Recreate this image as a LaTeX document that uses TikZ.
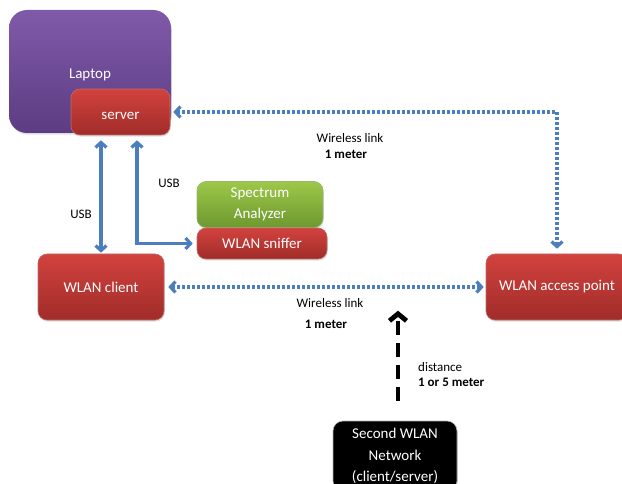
\documentclass[tikz,border=0pt]{standalone}
\usepackage{fontspec}
\setmainfont{Carlito}
\usetikzlibrary{arrows.meta,calc,shadows}

\definecolor{laptoptop}{RGB}{128,90,170}
\definecolor{laptopbot}{RGB}{92,60,130}
\definecolor{redtop}{RGB}{210,66,62}
\definecolor{redbot}{RGB}{160,44,41}
\definecolor{greentop}{RGB}{158,200,72}
\definecolor{greenbot}{RGB}{108,152,48}
\definecolor{linkblue}{RGB}{74,126,190}

\tikzset{
  box/.style={rounded corners=9pt, text=white, align=center,
    font=\fontsize{15}{21}\selectfont, inner sep=0pt,
    drop shadow={opacity=0.25, shadow xshift=0.8pt, shadow yshift=-1.6pt}},
  redbox/.style={box, top color=redtop, bottom color=redbot, draw=redbot!70!white, line width=0.6pt},
  greenbox/.style={box, top color=greentop, bottom color=greenbot, draw=greenbot!70!white, line width=0.6pt},
  usb/.style={draw=linkblue, line width=3.2pt,
    {Straight Barb[length=5pt,width=11pt]}-{Straight Barb[length=5pt,width=11pt]}},
  wireless/.style={draw=linkblue, line width=3.2pt, dash pattern=on 3pt off 2pt,
    {Straight Barb[length=5pt,width=11pt]}-{Straight Barb[length=5pt,width=11pt]}},
  lbl/.style={font=\fontsize{13}{16}\selectfont, inner sep=0pt},
}

\begin{document}
\begin{tikzpicture}[x=1pt, y=-1pt]
  \clip (0,0) rectangle (622,484);
  % define nodes
  % laptop with the server inside
  \node[box, rounded corners=18pt, top color=laptoptop, bottom color=laptopbot,
        minimum width=162pt, minimum height=123pt, text height=16pt] (laptop) at (90,71.5) {Laptop};
  \node[redbox, minimum width=99pt, minimum height=46pt, text height=15pt] (server) at (120.5,112) {server};
  % measuring devices
  \node[greenbox, minimum width=126pt, minimum height=46pt] (spectrum) at (260,204.5) {Spectrum\\Analyzer};
  \node[redbox, minimum width=130pt, minimum height=31pt] (sniffer) at (262,243.5) {WLAN sniffer};
  % wlan devices
  \node[redbox, minimum width=126pt, minimum height=66pt] (client) at (101,287) {WLAN client};
  \node[redbox, minimum width=142pt, minimum height=66pt] (ap) at (557,287) {WLAN access point};
  % interfering network
  \node[box, fill=black, draw=white!70!black, line width=0.6pt, rounded corners=10pt,
        minimum width=124pt, minimum height=70pt, font=\fontsize{15}{21.5}\selectfont] (second) at (395,456) {Second WLAN\\Network\\(client/server)};
  \coordinate (usbtap) at ($(server.south)+(16.5,0)$);
  \coordinate (distfrom) at ($(second.north)+(3,-20)$);
  \coordinate (distto) at ($(second.north)+(3,-110)$);

  % draw connections
  \draw[usb, shorten <=5pt, shorten >=1pt] (client |- server.south) -- (client.north);
  \draw[usb, shorten <=5pt, shorten >=4pt] (usbtap) |- (sniffer.west);
  \draw[wireless, shorten <=3pt, shorten >=5pt] (server.east) -| (ap.north);
  \draw[wireless, shorten <=4pt, shorten >=2pt] (client.east) -- (ap.west);
  \draw[line width=4.8pt, dash pattern=on 14pt off 8pt,
        -{Straight Barb[length=7pt,width=17pt]}] (distfrom) -- (distto);

  % add labels
  \node[lbl] (usbleft) at (81,214) {USB};
  \node[lbl] (usbright) at (169,183) {USB};
  \node[lbl] (linktop) at (350,138) {Wireless link};
  \node[lbl, font=\fontsize{13}{16}\selectfont\bfseries] (metertop) at (346,154) {1 meter};
  \node[lbl] (linkbot) at (330,303) {Wireless link};
  \node[lbl, font=\fontsize{13}{16}\selectfont\bfseries] (meterbot) at (326,324) {1 meter};
  \node[lbl, anchor=west] (dist) at (418,367) {distance};
  \node[lbl, anchor=west, font=\fontsize{13}{16}\selectfont\bfseries] (distval) at (418,382) {1 or 5 meter};
\end{tikzpicture}
\end{document}
